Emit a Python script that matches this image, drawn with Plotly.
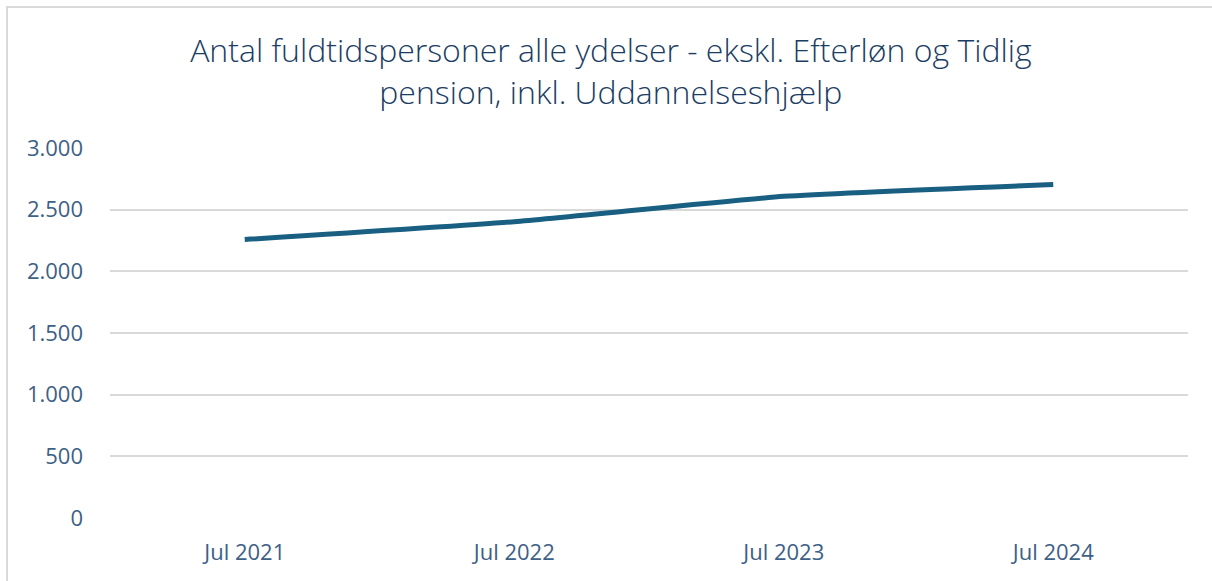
import plotly.graph_objects as go

categories = ["Jul 2021", "Jul 2022", "Jul 2023", "Jul 2024"]
values = [2258, 2402, 2608, 2704]
y_ticks = [0, 500, 1000, 1500, 2000, 2500, 3000]

title_text = "Antal fuldtidspersoner alle ydelser - ekskl. Efterløn og Tidlig<br>pension, inkl. Uddannelseshjælp"

tick_font = dict(family="Open Sans", size=22, color="#3d6086", weight=400)

fig = go.Figure()
fig.add_trace(go.Scatter(
    x=categories, y=values, mode="lines",
    line=dict(color="#185f82", width=5, shape="spline", smoothing=0.5),
    hoverinfo="x+y",
))

fig.update_layout(
    width=1212, height=581,
    margin=dict(l=110, r=24, t=148, b=63),
    paper_bgcolor="white", plot_bgcolor="white",
    separators=",.",
    showlegend=False,
    font=dict(family="Open Sans", color="#3d6086"),
    title=dict(
        text=title_text, x=0.504, xref="container", xanchor="center",
        y=1 - 62 / 581, yref="container", yanchor="middle",
        font=dict(family="Open Sans", size=32, color="#1b3d64", weight=300),
    ),
    xaxis=dict(
        type="category", range=[-0.5, 3.5], showgrid=False, showline=False,
        zeroline=False, ticks="", tickfont=tick_font,
        ticklabelstandoff=19,
    ),
    yaxis=dict(
        range=[0, 3000], tickvals=y_ticks, tickformat=",d",
        showgrid=True, gridcolor="#d9d9d9", gridwidth=2,
        zeroline=False, showline=False, ticks="",
        tickfont=tick_font,
        ticklabelstandoff=26,
    ),
    shapes=[
        dict(type="rect", xref="paper", yref="paper",
             x0=(7 - 110) / 1078, x1=1.2, y0=-0.5, y1=(518 - 7) / 370,
             line=dict(color="#d9d9d9", width=2), fillcolor="rgba(0,0,0,0)",
             layer="below"),
    ],
)

fig.write_html("out.html")
